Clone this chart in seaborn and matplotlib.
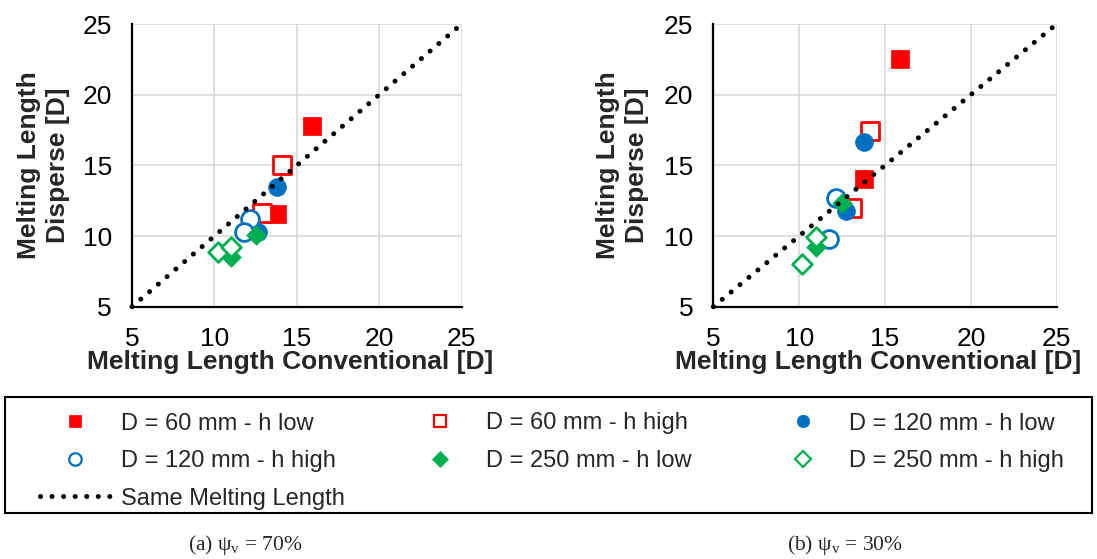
import matplotlib
matplotlib.use("Agg")
import matplotlib.pyplot as plt
import seaborn as sns
import pandas as pd
from matplotlib.lines import Line2D
from matplotlib.patches import Rectangle

# ---------------- data ----------------
series_labels = ["D = 60 mm - h low", "D = 60 mm - h high",
                 "D = 120 mm - h low", "D = 120 mm - h high",
                 "D = 250 mm - h low", "D = 250 mm - h high"]
series_colors = ["#FF0000", "#FF0000", "#0070C0", "#0070C0", "#00B050", "#00B050"]
series_markers = ["s", "s", "o", "o", "D", "D"]
series_filled = [True, False, True, False, True, False]

# panel (a) psi_v = 70 %
a_conv = [[15.9, 13.8], [14.1, 12.9], [13.8, 12.65], [12.15, 11.8], [12.5, 11.0], [10.2, 11.0]]
a_disp = [[17.8, 11.55], [15.05, 11.6], [13.45, 10.25], [11.2, 10.3], [10.05, 8.5], [8.85, 9.25]]
# panel (b) psi_v = 30 %
b_conv = [[15.9, 13.8], [14.1, 13.05], [13.8, 12.7], [12.15, 11.75], [12.5, 11.0], [10.15, 11.0]]
b_disp = [[22.5, 14.0], [17.45, 11.95], [16.65, 11.75], [12.7, 9.8], [12.35, 9.2], [8.0, 9.9]]

same_x = [5, 25]
same_y = [5, 25]
line_label = "Same Melting Length"

ticks = [5, 10, 15, 20, 25]
xlabel = "Melting Length Conventional [D]"
ylabel = "Melting Length\nDisperse [D]"
captions = [r"(a) ψ$_\mathrm{v}$ = 70%", r"(b) ψ$_\mathrm{v}$ = 30%"]

# ---------------- style ----------------
sns.set_style("white")
plt.rcParams["font.family"] = ["Liberation Sans", "DejaVu Sans"]
plt.rcParams["mathtext.fontset"] = "custom"
plt.rcParams["mathtext.rm"] = "Liberation Serif"

fig = plt.figure(figsize=(10.97, 5.59), dpi=100)
W, H = 1097, 559
ax_a = fig.add_axes([132 / W, 1 - 306.7 / H, (461.7 - 132) / W, (306.7 - 24) / H])
ax_b = fig.add_axes([713.3 / W, 1 - 306.7 / H, (1056.7 - 713.3) / W, (306.7 - 24) / H])

sizes = {"s": 170, "o": 165, "D": 100}
DOTS = (0, (0.01, 2.3))

def draw(ax, conv, disp):
    for i, lab in enumerate(series_labels):
        df = pd.DataFrame({"x": conv[i], "y": disp[i]})
        m = series_markers[i]
        if series_filled[i]:
            sns.scatterplot(data=df, x="x", y="y", ax=ax, marker=m, s=sizes[m],
                            color=series_colors[i], edgecolor=series_colors[i],
                            linewidth=0.5, zorder=3, legend=False)
        else:
            sns.scatterplot(data=df, x="x", y="y", ax=ax, marker=m, s=sizes[m],
                            facecolor="white", edgecolor=series_colors[i],
                            linewidth=2, zorder=3, legend=False)
    dl = pd.DataFrame({"x": same_x, "y": same_y})
    sns.lineplot(data=dl, x="x", y="y", ax=ax, color="black", linewidth=3.6,
                 linestyle=DOTS, dash_capstyle="round", zorder=4,
                 clip_on=False, legend=False)
    ax.set_xlim(5, 25)
    ax.set_ylim(5, 25)
    ax.set_xticks(ticks)
    ax.set_yticks(ticks)
    ax.grid(True, color="#D9D9D9", linewidth=1.2)
    ax.set_axisbelow(True)
    for s in ["top", "right"]:
        ax.spines[s].set_visible(False)
    for s in ["left", "bottom"]:
        ax.spines[s].set_color("black")
        ax.spines[s].set_linewidth(1.6)
        ax.spines[s].set_zorder(5)
    ax.tick_params(axis="both", direction="inout", length=11, width=1.5,
                   color="black", labelsize=19, labelcolor="black")
    ax.tick_params(axis="y", pad=9)
    ax.tick_params(axis="x", pad=9)
    ax.set_xlabel(xlabel, fontsize=19, fontweight="bold")
    ax.set_ylabel(ylabel, fontsize=19, fontweight="bold", linespacing=1.27)
    ax.xaxis.set_label_coords(0.48, -0.153)
    ax.yaxis.set_label_coords(-0.187, 0.5)

draw(ax_a, a_conv, a_disp)
draw(ax_b, b_conv, b_disp)

# ---------------- legend ----------------
handles = {}
for i, lab in enumerate(series_labels):
    m = series_markers[i]
    handles[lab] = Line2D([], [], linestyle="none", marker=m,
                          markersize=9 if m != "D" else 8,
                          markerfacecolor=series_colors[i] if series_filled[i] else "white",
                          markeredgecolor=series_colors[i],
                          markeredgewidth=0.5 if series_filled[i] else 1.6)
handles[line_label] = Line2D([], [], color="black", linewidth=3.6,
                             linestyle=DOTS, dash_capstyle="round")
columns = [[series_labels[0], series_labels[3], line_label],
           [series_labels[1], series_labels[4]],
           [series_labels[2], series_labels[5]]]
col_x = [40, 405, 768]
for cx, items in zip(col_x, columns):
    fig.legend([handles[k] for k in items], items, ncol=1, loc="upper left",
               bbox_to_anchor=(cx / W, 1 - 412.5 / H),
               fontsize=17, frameon=False, handlelength=2.95, handletextpad=0.5,
               labelspacing=0.66, borderpad=0, borderaxespad=0)
fig.patches.append(Rectangle((5 / W, 1 - 513 / H), 1087 / W, 116 / H,
                             transform=fig.transFigure, fill=False,
                             edgecolor="black", linewidth=1.5))

# ---------------- captions ----------------
fig.text(245 / W, 1 - 545 / H, captions[0], ha="center", va="center",
         fontsize=15.5, family=["Liberation Serif", "DejaVu Serif"])
fig.text(845 / W, 1 - 545 / H, captions[1], ha="center", va="center",
         fontsize=15.5, family=["Liberation Serif", "DejaVu Serif"])

fig.savefig("out.png", dpi=100)
